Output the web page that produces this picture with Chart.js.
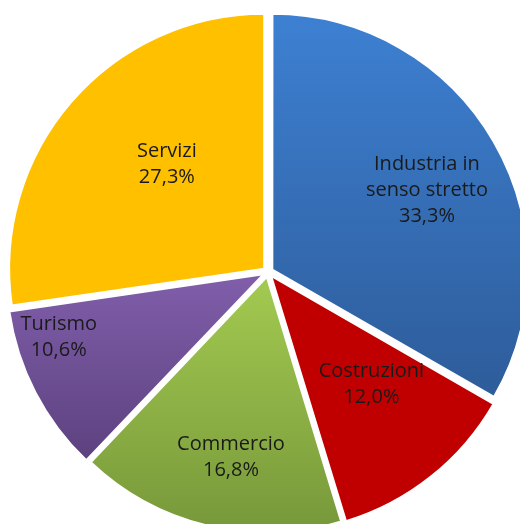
<!DOCTYPE html>
<html lang="it">
<head>
  <meta charset="UTF-8">
  <title>Composizione per settore</title>
  <script src="https://cdn.jsdelivr.net/npm/chart.js"></script>
  <style>
    body {
      margin: 0;
      background: #fff;
      overflow: hidden;
    }
  </style>
</head>
<body>
  <canvas id="pieChart" width="520" height="524"></canvas>
  <script>
    // Dati del grafico
    const labels = [['Industria in', 'senso stretto'], ['Costruzioni'], ['Commercio'], ['Turismo'], ['Servizi']];
    const values = [33.3, 12.0, 16.8, 10.6, 27.3];
    const valueLabels = ['33,3%', '12,0%', '16,8%', '10,6%', '27,3%'];

    // Stile: gradienti verticali [inizio, colore, fine, colore] relativi al raggio
    const fills = [
      [-1.0, '#3d80d2', 0.46, '#2e5d9b'],
      [-1.0, '#c00000', 1.0, '#c00000'],
      [0.02, '#a2c950', 1.0, '#77983a'],
      [0.03, '#7f5da9', 0.69, '#5e4381'],
      [-1.0, '#ffc000', 1.0, '#ffc000']
    ];
    // posizione etichette: frazione del raggio, spostamento angolare (gradi)
    const labelPos = [[0.70, 3], [0.60, -4], [0.74, -2], [0.86, 10], [0.58, 6]];

    const RADIUS = 255;

    function sliceFill(ctx) {
      const chart = ctx.chart;
      const area = chart.chartArea;
      const f = fills[ctx.dataIndex];
      if (!area) return f[1];
      const cy = (area.top + area.bottom) / 2;
      const g = chart.ctx.createLinearGradient(0, cy + f[0] * RADIUS, 0, cy + f[2] * RADIUS);
      g.addColorStop(0, f[1]);
      g.addColorStop(1, f[3]);
      return g;
    }

    // Etichette dentro le fette
    const sliceLabels = {
      id: 'sliceLabels',
      afterDatasetsDraw(chart) {
        const c = chart.ctx;
        const meta = chart.getDatasetMeta(0);
        c.save();
        c.font = '20px "Open Sans", sans-serif';
        c.fillStyle = '#1a1a1a';
        c.textAlign = 'center';
        c.textBaseline = 'middle';
        meta.data.forEach((arc, i) => {
          const p = arc.getProps(['x', 'y', 'startAngle', 'endAngle', 'outerRadius'], true);
          const a = (p.startAngle + p.endAngle) / 2 + labelPos[i][1] * Math.PI / 180;
          const r = labelPos[i][0] * p.outerRadius;
          const x = p.x + Math.cos(a) * r;
          const y = p.y + Math.sin(a) * r;
          const lines = labels[i].concat([valueLabels[i]]);
          const lh = 26;
          const y0 = y - (lines.length - 1) * lh / 2;
          lines.forEach((t, k) => c.fillText(t, x, y0 + k * lh));
        });
        c.restore();
      }
    };

    new Chart(document.getElementById('pieChart'), {
      type: 'pie',
      data: {
        labels: labels.map(l => l.join(' ')),
        datasets: [{
          data: values,
          backgroundColor: sliceFill,
          borderColor: '#ffffff',
          borderWidth: 2,
          offset: 20
        }]
      },
      options: {
        responsive: false,
        animation: false,
        events: [],
        radius: RADIUS,
        layout: { padding: { left: 16, top: 20 } },
        plugins: {
          legend: { display: false },
          tooltip: { enabled: false }
        }
      },
      plugins: [sliceLabels]
    });
  </script>
</body>
</html>
